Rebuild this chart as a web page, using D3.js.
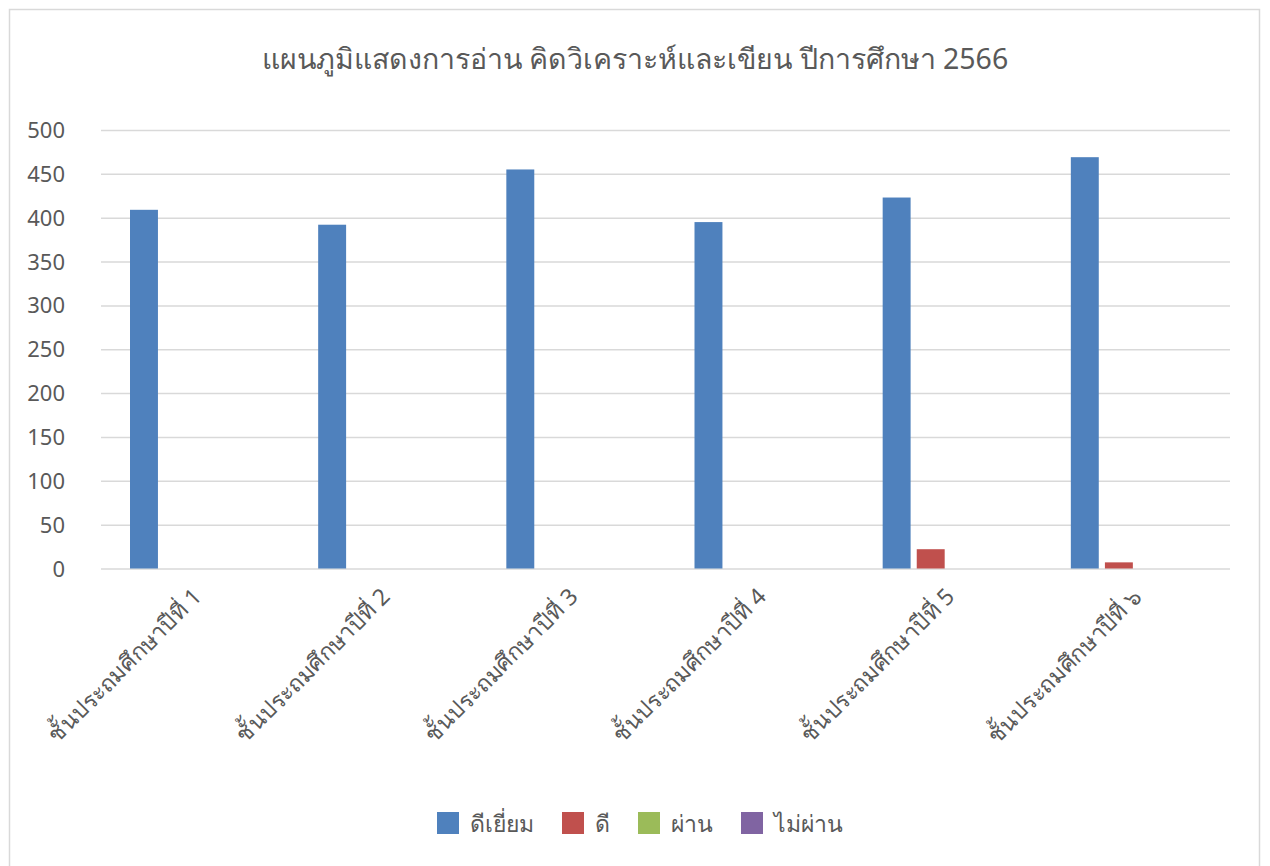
<!DOCTYPE html>
<html>
<head>
<meta charset="utf-8">
<script src="https://cdn.jsdelivr.net/npm/d3@7"></script>
<style>
    body { margin: 0; background: #ffffff; }
    svg { font-family: "Noto Sans", "DejaVu Sans", sans-serif; }
    .grid line { stroke: #d9d9d9; stroke-width: 1.5; }
    .tick-text { fill: #595959; font-size: 22px; }
    .x-text { fill: #595959; font-size: 23px; }
    .title { fill: #595959; font-size: 28.5px; }
    .legend-text { fill: #595959; font-size: 23px; }
</style>
</head>
<body>
<svg width="1270" height="866"></svg>
<script>
// Chart data
var title = "แผนภูมิแสดงการอ่าน คิดวิเคราะห์และเขียน ปีการศึกษา 2566";
var categories = [
    "ชั้นประถมศึกษาปีที่ 1",
    "ชั้นประถมศึกษาปีที่ 2",
    "ชั้นประถมศึกษาปีที่ 3",
    "ชั้นประถมศึกษาปีที่ 4",
    "ชั้นประถมศึกษาปีที่ 5",
    "ชั้นประถมศึกษาปีที่ ๖"
];
var seriesNames = ["ดีเยี่ยม", "ดี", "ผ่าน", "ไม่ผ่าน"];
var excellent = [409, 392, 455, 395, 423, 469];
var good = [0, 0, 0, 0, 22, 7];
var pass = [0, 0, 0, 0, 0, 0];
var fail = [0, 0, 0, 0, 0, 0];
var yTicks = [0, 50, 100, 150, 200, 250, 300, 350, 400, 450, 500];
var colors = ["#4f81bd", "#c0504d", "#9bbb59", "#8064a2"];

var seriesValues = [excellent, good, pass, fail];

var svg = d3.select("svg");

// Outer chart border
svg.append("rect")
    .attr("x", 9.5).attr("y", 9.5)
    .attr("width", 1250).attr("height", 870)
    .attr("fill", "#fff")
    .attr("stroke", "#d9d9d9")
    .attr("stroke-width", 1.5);

var plot = { left: 101, right: 1230, top: 130, bottom: 568.5 };

var x0 = d3.scaleBand()
    .domain(categories)
    .range([plot.left, plot.right])
    .paddingInner(0)
    .paddingOuter(0);

var x1 = d3.scaleBand()
    .domain(d3.range(seriesNames.length))
    .range([29, x0.bandwidth() - 29])
    .paddingInner(0.18);

var y = d3.scaleLinear().domain([0, 500]).range([plot.bottom, plot.top]);

// Title
svg.append("text")
    .attr("class", "title")
    .attr("x", 635)
    .attr("y", 69)
    .attr("text-anchor", "middle")
    .text(title);

// Gridlines
svg.append("g")
    .attr("class", "grid")
    .attr("transform", "translate(" + plot.left + ",0)")
    .call(d3.axisLeft(y).tickValues(yTicks).tickSize(-(plot.right - plot.left)).tickFormat(""))
    .call(g => g.select(".domain").remove());

// Y tick labels
svg.append("g")
    .selectAll("text")
    .data(yTicks)
    .enter()
    .append("text")
    .attr("class", "tick-text")
    .attr("x", 65)
    .attr("y", d => y(d) + 8)
    .attr("text-anchor", "end")
    .text(d => d);

// Bars
var groups = svg.append("g")
    .selectAll("g")
    .data(categories)
    .enter()
    .append("g")
    .attr("transform", d => "translate(" + x0(d) + ",0)");

groups.selectAll("rect")
    .data((d, i) => seriesValues.map((s, k) => ({ k: k, v: s[i] })))
    .enter()
    .append("rect")
    .filter(d => d.v > 0)
    .attr("x", d => x1(d.k))
    .attr("width", x1.bandwidth())
    .attr("y", d => y(d.v))
    .attr("height", d => y(0) - y(d.v))
    .attr("fill", d => colors[d.k]);

// X labels rotated
svg.append("g")
    .selectAll("text")
    .data(categories)
    .enter()
    .append("text")
    .attr("class", "x-text")
    .attr("text-anchor", "end")
    .attr("transform", d => "translate(" + (x0(d) + x0.bandwidth() / 2 + 8) + ",598) rotate(-45)")
    .text(d => d);

// Legend
var legend = svg.append("g");
var items = legend.selectAll("g")
    .data(seriesNames)
    .enter()
    .append("g");

items.append("rect")
    .attr("width", 22).attr("height", 22)
    .attr("y", 812)
    .attr("fill", (d, i) => colors[i]);

items.append("text")
    .attr("class", "legend-text")
    .attr("x", 33)
    .attr("y", 832)
    .text(d => d);

// Lay out legend items centered
var widths = [];
items.each(function () {
    widths.push(33 + this.querySelector("text").getComputedTextLength());
});
var gap = 28;
var total = d3.sum(widths) + gap * (widths.length - 1);
var pos = 640 - total / 2;
items.attr("transform", function (d, i) {
    var t = "translate(" + pos + ",0)";
    pos += widths[i] + gap;
    return t;
});
</script>
</body>
</html>
